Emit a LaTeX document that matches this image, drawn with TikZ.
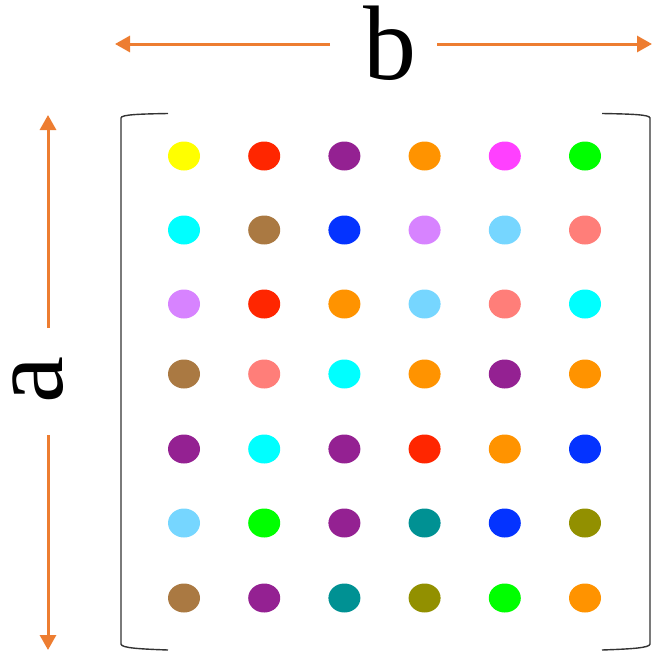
\documentclass[tikz,border=0pt]{standalone}
\usepackage{fontspec}
\setmainfont{Liberation Serif}
\usetikzlibrary{arrows.meta,shapes.geometric}
\definecolor{cYe}{HTML}{FFFF00}
\definecolor{cRe}{HTML}{FF2600}
\definecolor{cPu}{HTML}{942192}
\definecolor{cOr}{HTML}{FF9300}
\definecolor{cMa}{HTML}{FF40FF}
\definecolor{cGr}{HTML}{00FF00}
\definecolor{cCy}{HTML}{00FFFF}
\definecolor{cBr}{HTML}{AA7942}
\definecolor{cBl}{HTML}{0433FF}
\definecolor{cLa}{HTML}{D783FF}
\definecolor{cLb}{HTML}{76D6FF}
\definecolor{cSa}{HTML}{FF7E79}
\definecolor{cTe}{HTML}{009193}
\definecolor{cOl}{HTML}{929000}
\definecolor{arrc}{HTML}{ED7D31}
\definecolor{brk}{HTML}{333333}
\tikzset{
  dot/.style={ellipse,inner sep=0pt,minimum width=32pt,minimum height=29pt,fill=#1,draw=none},
  dimarrow/.style={draw=arrc,line width=3pt,-{Triangle[length=15pt,width=16pt]}},
  bracket/.style={draw=brk,line width=1.4pt},
  biglabel/.style={font=\fontsize{106}{106}\selectfont,inner sep=0pt}
}
\begin{document}
\begin{tikzpicture}[x=1pt,y=-1pt]
\useasboundingbox (0,0) rectangle (653,656);
% labels
\node[biglabel,anchor=base] (lb) at (390,79) {b};
\node[biglabel,anchor=base,rotate=90] (la) at (62,380) {a};
% arrow end coordinates
\coordinate (bL1) at (330,44);
\coordinate (bL2) at (115,44);
\coordinate (bR1) at (437,44);
\coordinate (bR2) at (652,44);
\coordinate (aT1) at (48,328);
\coordinate (aT2) at (48,115);
\coordinate (aB1) at (48,435);
\coordinate (aB2) at (48,650);
\draw[dimarrow] (bL1) -- (bL2);
\draw[dimarrow] (bR1) -- (bR2);
\draw[dimarrow] (aT1) -- (aT2);
\draw[dimarrow] (aB1) -- (aB2);
% brackets
\draw[bracket] (168,113.5) .. controls (140,114) and (121,114.5) .. (121,118) -- (121,644) .. controls (121,648) and (140,649) .. (168,650);
\draw[bracket] (602,113.5) .. controls (630,114) and (650,114.5) .. (650,118) -- (650,644) .. controls (650,648) and (630,649) .. (602,650);
% dots
\foreach \row/\clist [count=\r] in {
  156/{cYe,cRe,cPu,cOr,cMa,cGr},
  230/{cCy,cBr,cBl,cLa,cLb,cSa},
  304/{cLa,cRe,cOr,cLb,cSa,cCy},
  374/{cBr,cSa,cCy,cOr,cPu,cOr},
  449/{cPu,cCy,cPu,cRe,cOr,cBl},
  523/{cLb,cGr,cPu,cTe,cBl,cOl},
  598/{cBr,cPu,cTe,cOl,cGr,cOr}} {
  \foreach \c [count=\k] in \clist {
    \node[dot=\c] (d\r\k) at ({184+80.2*(\k-1)},\row) {};
  }
}
\end{tikzpicture}
\end{document}
